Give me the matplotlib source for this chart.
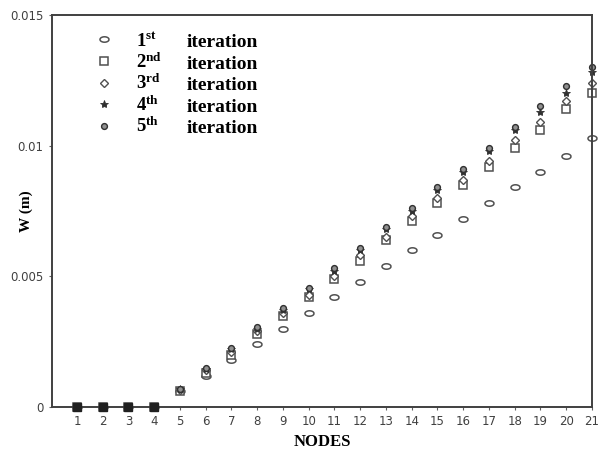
import numpy as np
import matplotlib.pyplot as plt

plt.rcParams['mathtext.fontset'] = 'custom'
plt.rcParams['mathtext.rm'] = 'Liberation Serif:bold'
plt.rcParams['mathtext.bf'] = 'Liberation Serif:bold'

nodes = np.arange(1, 22)
# deflection W (m) per node for each iteration
it1 = [0, 0, 0, 0, 0.0006, 0.0012, 0.0018, 0.0024, 0.0030, 0.0036, 0.0042,
       0.0048, 0.0054, 0.0060, 0.0066, 0.0072, 0.0078, 0.0084, 0.0090, 0.0096, 0.0103]
it2 = [0, 0, 0, 0, 0.00062, 0.0013, 0.0020, 0.0028, 0.0035, 0.0042, 0.0049,
       0.0056, 0.0064, 0.0071, 0.0078, 0.0085, 0.0092, 0.0099, 0.0106, 0.0114, 0.0120]
it3 = [0, 0, 0, 0, 0.00065, 0.0014, 0.0021, 0.0029, 0.0036, 0.0043, 0.0050,
       0.0058, 0.0065, 0.0073, 0.0080, 0.0087, 0.0094, 0.0102, 0.0109, 0.0117, 0.0124]
it4 = [0, 0, 0, 0, 0.00068, 0.00145, 0.0022, 0.0030, 0.0037, 0.0045, 0.0052,
       0.0060, 0.0068, 0.0075, 0.0083, 0.0090, 0.0098, 0.0106, 0.0113, 0.0120, 0.0128]
it5 = [0, 0, 0, 0, 0.0007, 0.0015, 0.00225, 0.00305, 0.0038, 0.00455, 0.0053,
       0.0061, 0.0069, 0.0076, 0.0084, 0.0091, 0.0099, 0.0107, 0.0115, 0.0123, 0.0130]

labels = [r'$\mathbf{1^{st}}$', r'$\mathbf{2^{nd}}$', r'$\mathbf{3^{rd}}$',
          r'$\mathbf{4^{th}}$', r'$\mathbf{5^{th}}$']

# ellipse marker (circles look squashed in the original)
th = np.linspace(0, 2 * np.pi, 40)
ellipse = np.column_stack([np.cos(th), 0.6 * np.sin(th)])

fig = plt.figure(figsize=(6.01, 4.5), dpi=100)
ax = fig.add_axes([0.0865, 0.0956, 0.8985, 0.8711])

ec = '#505050'
ax.plot(nodes, it1, ls='none', marker=ellipse, ms=6.5, mfc='white', mec=ec, mew=1.1, label=labels[0], clip_on=False)
ax.plot(nodes, it2, ls='none', marker='s', ms=5.5, mfc='white', mec=ec, mew=1.1, label=labels[1], clip_on=False)
ax.plot(nodes, it3, ls='none', marker='D', ms=4.2, mfc='white', mec=ec, mew=1.0, label=labels[2], clip_on=False)
ax.plot(nodes, it4, ls='none', marker='*', ms=6, mfc='#303030', mec='#303030', mew=0.6, label=labels[3], clip_on=False)
ax.plot(nodes, it5, ls='none', marker='o', ms=4.2, mfc='#909090', mec='#303030', mew=1.0, label=labels[4], clip_on=False)
# nodes 1-4 appear as solid dark blobs on the axis
ax.plot(nodes[:4], it1[:4], ls='none', marker='s', ms=5.5, mfc='#202020', mec='#202020', clip_on=False, zorder=5)

ax.set_xlim(0.03, 21)
ax.set_ylim(0, 0.015)
ax.set_xticks(nodes)
ax.set_yticks([0, 0.005, 0.01, 0.015])
ax.set_yticklabels(['0', '0.005', '0.01', '0.015'])
ax.tick_params(labelsize=8.5, labelcolor='#404040', length=2.5, width=0.8, color='#606060')
for s in ax.spines.values():
    s.set_linewidth(1.4)
    s.set_color('#404040')

ax.set_xlabel('NODES', fontfamily='Liberation Serif', fontweight='bold', fontsize=12, labelpad=4)
ax.set_ylabel('W (m)', fontfamily='Liberation Serif', fontweight='bold', fontsize=11)
ax.yaxis.set_label_coords(-0.035, 0.5)

leg = ax.legend(loc='upper left', bbox_to_anchor=(0.048, 1.0), frameon=False,
                prop={'family': 'Liberation Serif', 'weight': 'bold', 'size': 13.5},
                handletextpad=1.2, labelspacing=0.12, handlelength=1.0)

# second column "iteration", aligned with the legend rows
fig.canvas.draw()
inv = fig.transFigure.inverted()
for t in leg.get_texts():
    bb = t.get_window_extent()
    x0, y0 = inv.transform((187, bb.y0 + 3))
    fig.text(x0, y0, 'iteration', fontfamily='Liberation Serif', fontweight='bold',
             fontsize=14, va='baseline', ha='left')

fig.savefig('out.png', dpi=100)
